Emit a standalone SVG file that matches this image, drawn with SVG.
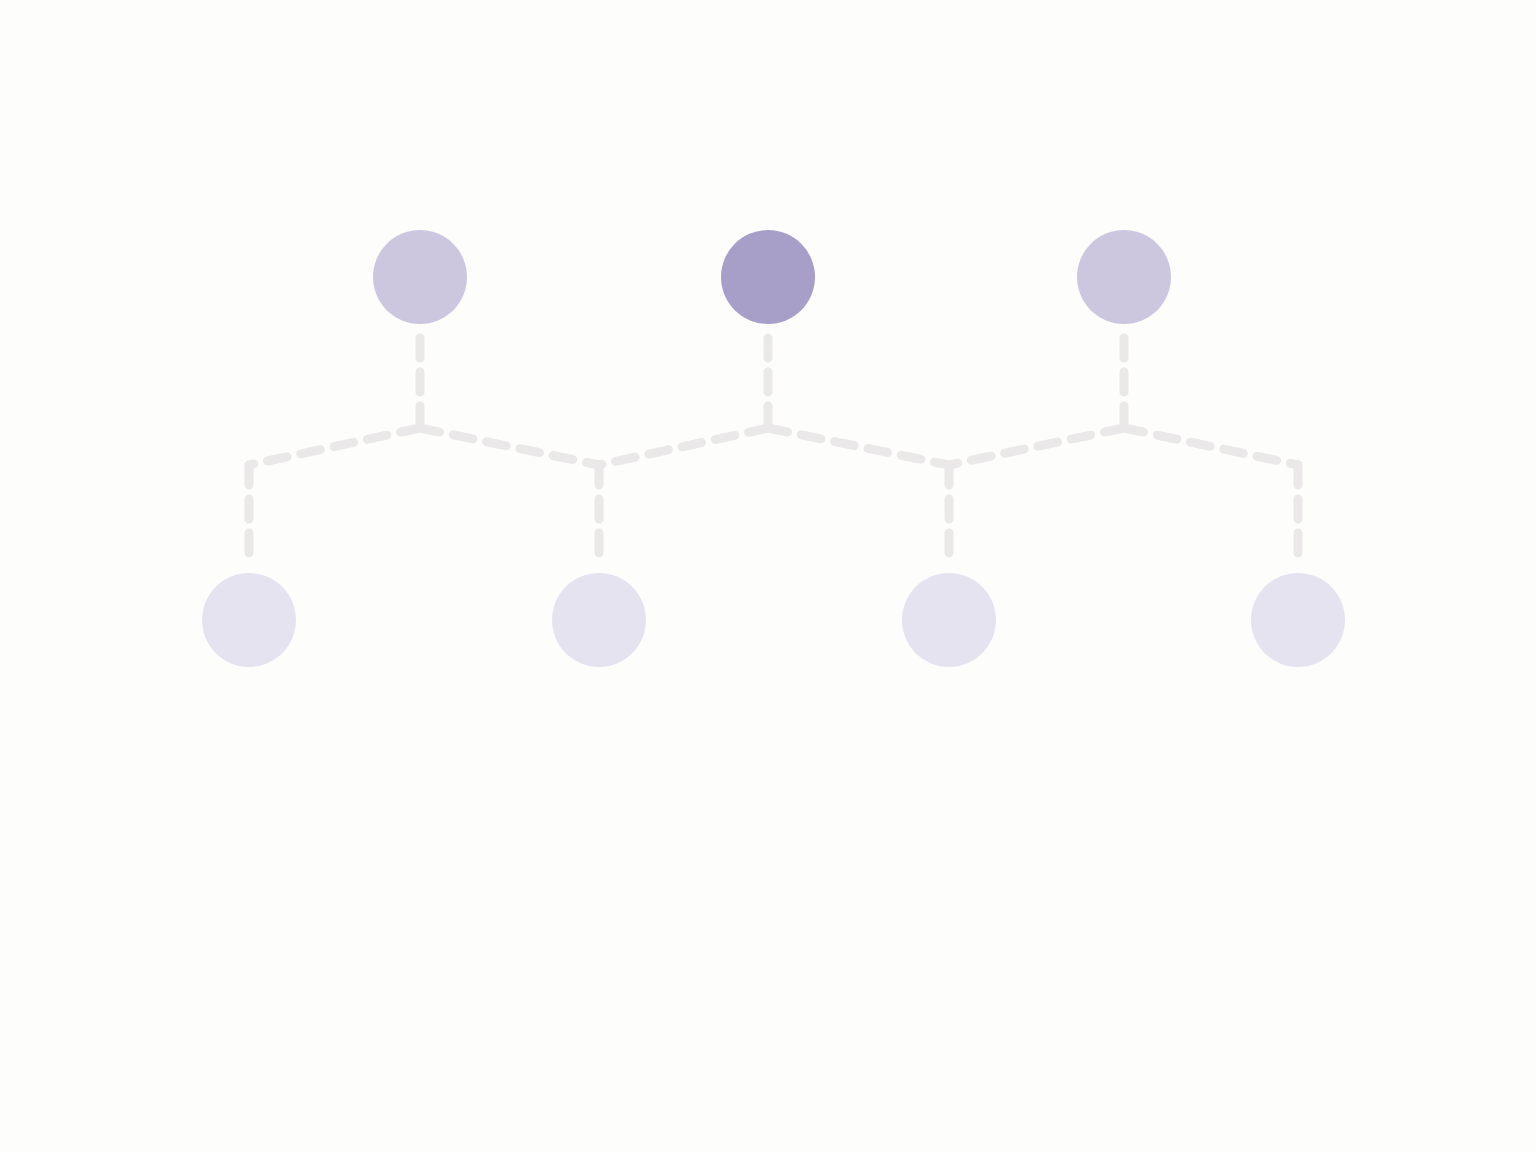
<svg xmlns="http://www.w3.org/2000/svg" width="1536" height="1152" viewBox="0 0 1536 1152">
<style>
.c{fill:none;stroke:#ebe8ea;stroke-width:9;stroke-dasharray:20 14;stroke-linecap:round}
.top{fill:#ccc7df}
.mid{fill:#a79fc8}
.bot{fill:#e6e3f0}
</style>
<rect width="1536" height="1152" fill="#fdfdfc"/>
<g id="connectors">
<path class="c" d="M420 338 V428 M420 428 L249 465 M420 428 L599 465"/>
<path class="c" d="M768 338 V428 M768 428 L599 465 M768 428 L949 465"/>
<path class="c" d="M1124 338 V428 M1124 428 L949 465 M1124 428 L1298 465"/>
<path class="c" d="M249 465 V562 M599 465 V562 M949 465 V562 M1298 465 V562"/>
</g>
<g id="n1"><circle class="top" cx="420" cy="277" r="47"/></g>
<g id="n2"><circle class="mid" cx="768" cy="277" r="47"/></g>
<g id="n3"><circle class="top" cx="1124" cy="277" r="47"/></g>
<g id="n4"><circle class="bot" cx="249" cy="620" r="47"/></g>
<g id="n5"><circle class="bot" cx="599" cy="620" r="47"/></g>
<g id="n6"><circle class="bot" cx="949" cy="620" r="47"/></g>
<g id="n7"><circle class="bot" cx="1298" cy="620" r="47"/></g>
</svg>
